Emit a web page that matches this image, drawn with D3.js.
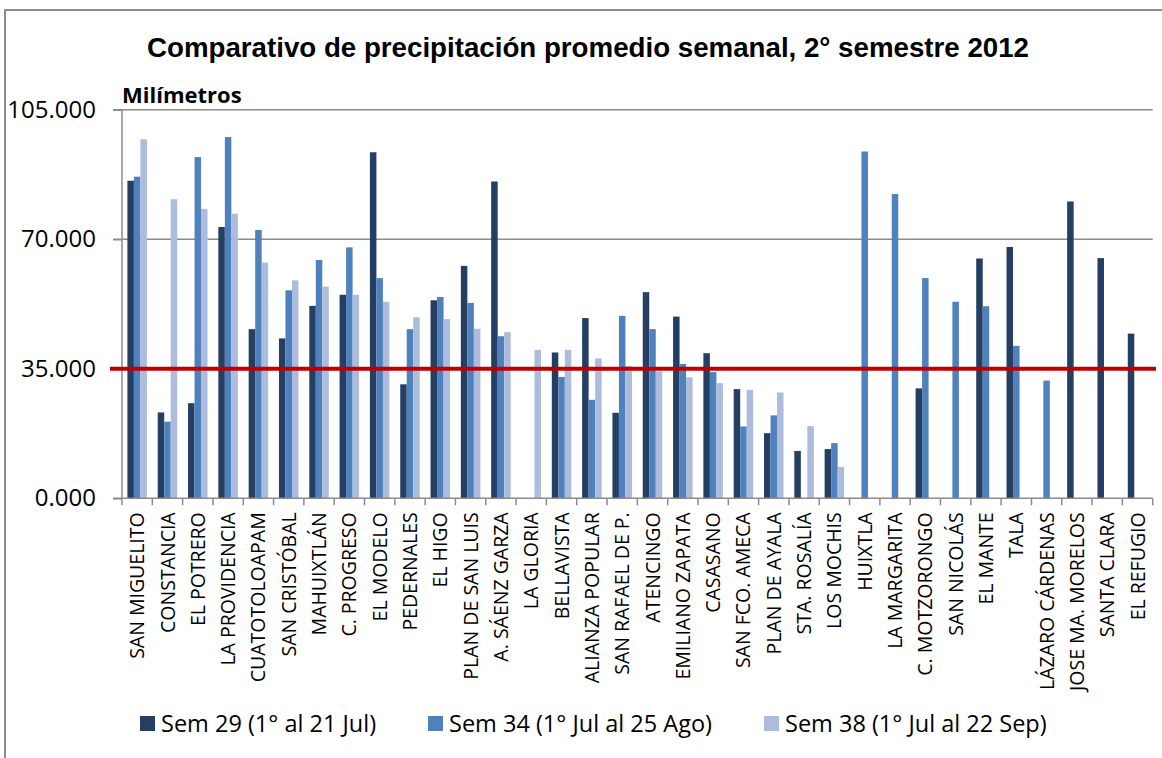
<!DOCTYPE html>
<html>
<head>
<meta charset="utf-8">
<script src="https://cdn.jsdelivr.net/npm/d3@7"></script>
<style>
  html, body { margin: 0; padding: 0; background: #fff; }
  svg { display: block; }
</style>
</head>
<body>
<svg id="chart" width="1162" height="758"></svg>
<script>
const categories = ["SAN MIGUELITO","CONSTANCIA","EL POTRERO","LA PROVIDENCIA","CUATOTOLOAPAM","SAN CRISTÓBAL","MAHUIXTLÁN","C. PROGRESO","EL MODELO","PEDERNALES","EL HIGO","PLAN DE SAN LUIS","A. SÁENZ GARZA","LA GLORIA","BELLAVISTA","ALIANZA POPULAR","SAN RAFAEL DE P.","ATENCINGO","EMILIANO ZAPATA","CASASANO","SAN FCO. AMECA","PLAN DE AYALA","STA. ROSALÍA","LOS MOCHIS","HUIXTLA","LA MARGARITA","C. MOTZORONGO","SAN NICOLÁS","EL MANTE","TALA","LÁZARO CÁRDENAS","JOSE MA. MORELOS","SANTA CLARA","EL REFUGIO"];

const sem29 = [85.8,23.2,25.7,73.3,45.7,43.2,52.0,55.0,93.5,30.8,53.5,62.8,85.6,null,39.4,48.7,23.1,55.7,49.1,39.2,29.5,17.6,12.8,13.3,null,null,29.7,null,64.8,67.9,null,80.2,64.9,44.5];
const sem34 = [86.9,20.7,92.2,97.6,72.5,56.2,64.4,67.8,59.5,45.7,54.4,52.8,43.8,null,32.8,26.6,49.3,45.7,36.3,34.1,19.4,22.4,null,14.9,93.7,82.2,59.5,53.1,51.9,41.2,31.8,null,null,null];
const sem38 = [97.0,80.8,78.2,76.9,63.7,58.9,57.2,55.0,53.1,48.9,48.4,45.8,44.9,40.1,40.1,37.8,35.7,34.3,32.7,31.1,29.3,28.6,19.5,8.5,null,null,null,null,null,null,null,null,null,null];

const seriesNames = ["Sem 29 (1° al 21 Jul)","Sem 34 (1° Jul al 25 Ago)","Sem 38 (1° Jul al 22 Sep)"];
const seriesValues = [sem29, sem34, sem38];
const seriesColors = ["#243F62","#4F81BD","#ADBCDC"];

const yTicks = [0, 35, 70, 105];
const referenceValue = 35;
const titleText = "Comparativo de precipitación promedio semanal, 2° semestre 2012";
const yAxisTitle = "Milímetros";

(function () {
const svg = d3.select("#chart");

// outer frame
svg.append("path")
  .attr("d", "M5,760 L5,10 L1170,10")
  .attr("fill", "none").attr("stroke", "#8c8c8c").attr("stroke-width", 2);

const pLeft = 122, pRight = 1152.7, pTop = 109.7, pBottom = 498.3;

const x = d3.scaleBand().domain(categories).range([pLeft, pRight]).paddingInner(0.356).paddingOuter(0.178);
const xs = d3.scaleBand().domain(d3.range(3)).range([0, x.bandwidth()]).padding(0);
const y = d3.scaleLinear().domain([0, 105]).range([pBottom, pTop]);

// gridlines
svg.append("g").selectAll("line").data(yTicks.filter(d => d > 0)).join("line")
  .attr("x1", pLeft - 9).attr("x2", pRight)
  .attr("y1", d => y(d)).attr("y2", d => y(d))
  .attr("stroke", "#8c8c8c").attr("stroke-width", 1.5);

// bars
const step = x.step();
const groups = svg.append("g").selectAll("g").data(categories).join("g")
  .attr("transform", d => `translate(${x(d)},0)`);
groups.selectAll("rect")
  .data((d, i) => seriesValues.map((s, k) => ({k, v: s[i]})).filter(o => o.v != null))
  .join("rect")
  .attr("x", o => xs(o.k))
  .attr("width", xs.bandwidth())
  .attr("y", o => y(o.v))
  .attr("height", o => y(0) - y(o.v))
  .attr("fill", o => seriesColors[o.k]);

// y axis
const yAxis = d3.axisLeft(y).tickValues(yTicks).tickSize(9).tickFormat(d3.format(".3f"));
const yg = svg.append("g").attr("transform", `translate(${pLeft},0)`).call(yAxis);
yg.select(".domain").attr("stroke", "#8c8c8c").attr("stroke-width", 1.5).attr("d", `M0,${pTop}V${pBottom}`);
yg.selectAll(".tick line").attr("stroke", "#8c8c8c").attr("stroke-width", 1.5);
yg.selectAll(".tick text")
  .attr("x", -26)
  .attr("font-family", "'Open Sans', sans-serif")
  .attr("font-size", 24)
  .attr("fill", "#000");

// x axis
const xg = svg.append("g").attr("transform", `translate(0,${pBottom})`);
xg.append("line").attr("x1", pLeft - 9).attr("x2", pRight).attr("y1", 0).attr("y2", 0)
  .attr("stroke", "#8c8c8c").attr("stroke-width", 1.5);
xg.selectAll("line.tk").data(d3.range(categories.length + 1)).join("line")
  .attr("class", "tk")
  .attr("x1", i => pLeft + i * step).attr("x2", i => pLeft + i * step)
  .attr("y1", 0).attr("y2", 7)
  .attr("stroke", "#8c8c8c").attr("stroke-width", 1.5);
xg.selectAll("text").data(categories).join("text")
  .attr("transform", d => `translate(${x(d) + x.bandwidth() / 2},14) rotate(-90)`)
  .attr("text-anchor", "end")
  .attr("dy", "0.36em")
  .attr("font-family", "'Open Sans', sans-serif")
  .attr("font-size", 19.5)
  .attr("fill", "#000")
  .text(d => d);

// reference line
svg.append("line")
  .attr("x1", 110).attr("x2", 1156)
  .attr("y1", y(referenceValue)).attr("y2", y(referenceValue))
  .attr("stroke", "#C00000").attr("stroke-width", 4);

// title
svg.append("text")
  .attr("x", 588).attr("y", 57)
  .attr("text-anchor", "middle")
  .attr("font-family", "'Liberation Sans', Arial, sans-serif")
  .attr("font-weight", "bold")
  .attr("font-size", 27.7)
  .attr("fill", "#000")
  .text(titleText);

svg.append("text")
  .attr("x", 122).attr("y", 103)
  .attr("font-family", "'Open Sans', sans-serif")
  .attr("font-weight", "bold")
  .attr("font-size", 22)
  .attr("fill", "#000")
  .text(yAxisTitle);

// legend
const legendX = [140, 428, 764];
const lg = svg.append("g").selectAll("g").data(seriesNames).join("g")
  .attr("transform", (d, i) => `translate(${legendX[i]},716)`);
lg.append("rect").attr("width", 15).attr("height", 15).attr("fill", (d, i) => seriesColors[i]);
lg.append("text").attr("x", 21).attr("y", 15.5)
  .attr("font-family", "'Open Sans', sans-serif")
  .attr("font-size", 23.5)
  .attr("fill", "#000")
  .text(d => d);
})();
</script>
</body>
</html>
